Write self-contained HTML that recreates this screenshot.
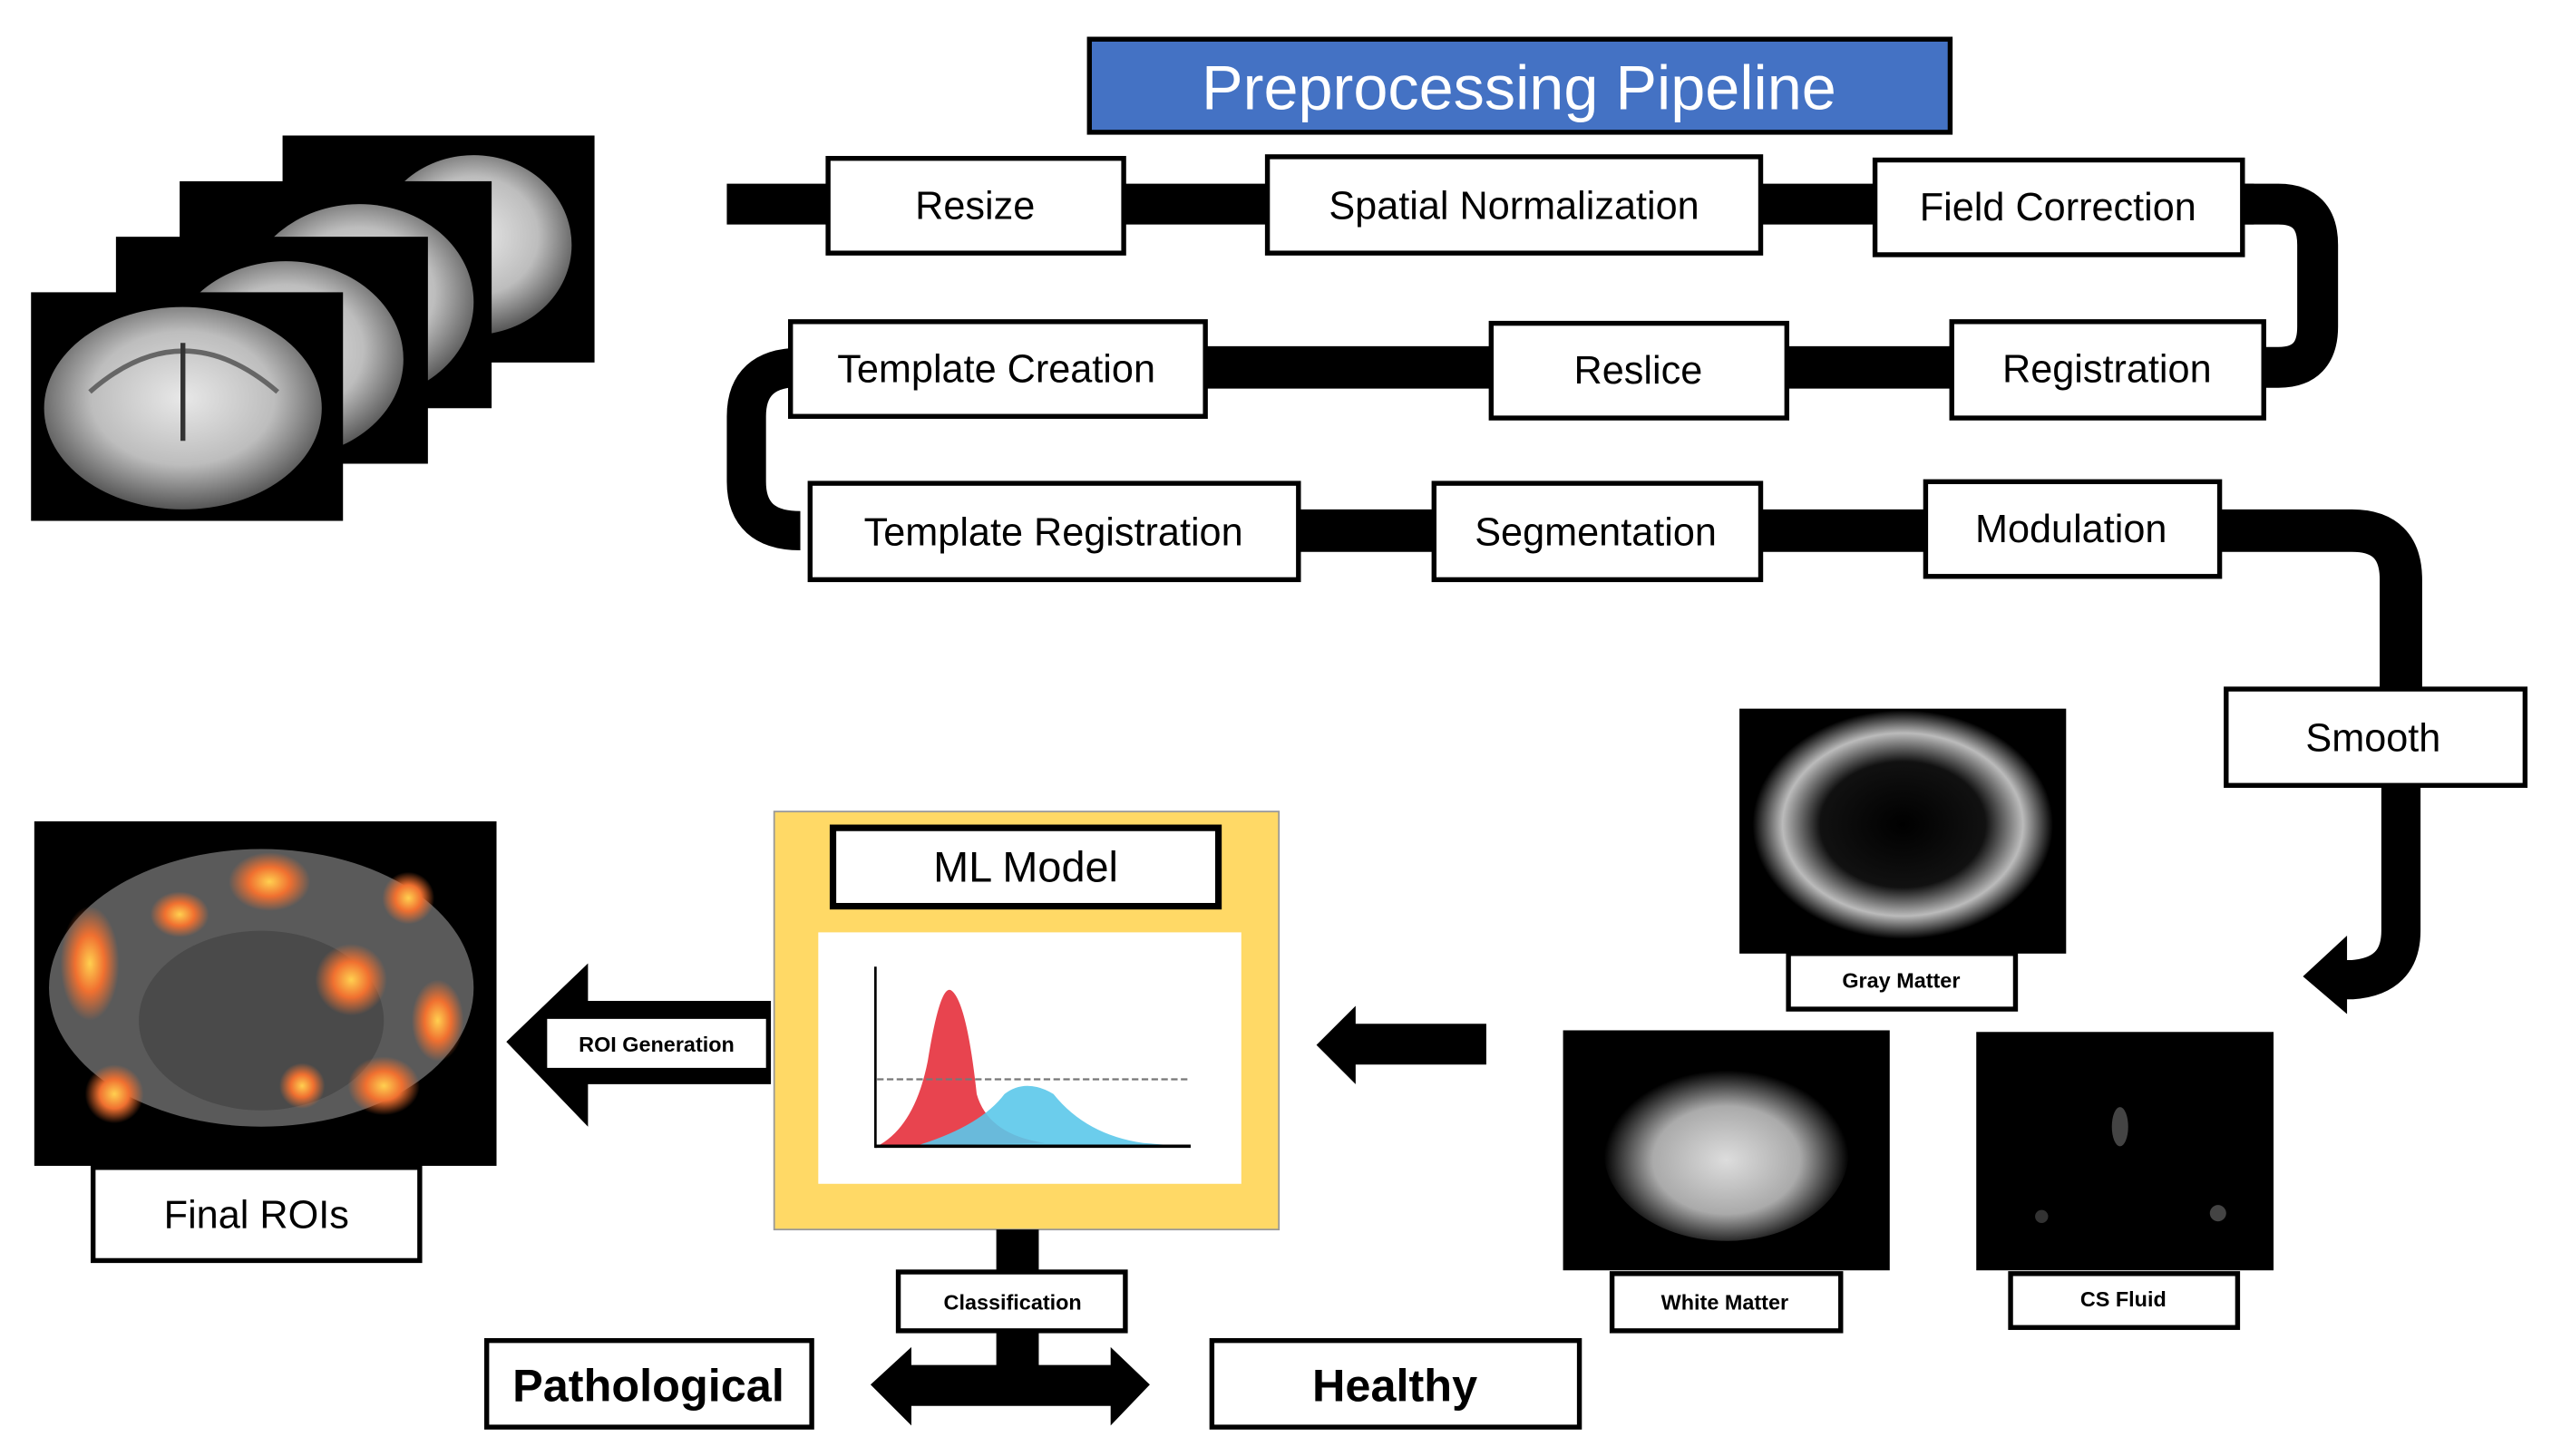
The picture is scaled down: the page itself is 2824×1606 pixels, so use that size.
<!DOCTYPE html>
<html><head><meta charset="utf-8"><style>
html,body{margin:0;padding:0;background:#fff;}
svg{display:block;}
text{font-family:"Liberation Sans",sans-serif;}
</style></head><body>
<svg width="2824" height="1606" viewBox="0 0 1568 891.7" preserveAspectRatio="none" xmlns="http://www.w3.org/2000/svg">
<defs>
<radialGradient id="br" cx="50%" cy="45%" r="55%"><stop offset="0" stop-color="#e8e8e8"/><stop offset="0.6" stop-color="#bdbdbd"/><stop offset="1" stop-color="#555"/></radialGradient>
<radialGradient id="gm" cx="50%" cy="50%" r="50%"><stop offset="0" stop-color="#000"/><stop offset="0.55" stop-color="#111"/><stop offset="0.8" stop-color="#bbb"/><stop offset="1" stop-color="#000"/></radialGradient>
<radialGradient id="wm" cx="50%" cy="55%" r="50%"><stop offset="0" stop-color="#ddd"/><stop offset="0.6" stop-color="#aaa"/><stop offset="1" stop-color="#000"/></radialGradient>
<radialGradient id="hot" cx="50%" cy="50%" r="50%"><stop offset="0" stop-color="#ffd050"/><stop offset="0.5" stop-color="#f07030"/><stop offset="1" stop-color="#f07030" stop-opacity="0"/></radialGradient>
</defs>

<!-- Title -->
<rect x="667" y="24" width="527" height="57" fill="#4472C4" stroke="#000" stroke-width="3"/>
<text x="930" y="67" font-size="38" fill="#fff" text-anchor="middle">Preprocessing Pipeline</text>

<!-- brain stack -->
<g>
<rect x="173" y="83" width="191" height="139" fill="#000"/>
<ellipse cx="290" cy="150" rx="60" ry="55" fill="url(#br)"/>
<rect x="110" y="111" width="191" height="139" fill="#000"/>
<ellipse cx="220" cy="185" rx="70" ry="60" fill="url(#br)"/>
<rect x="71" y="145" width="191" height="139" fill="#000"/>
<ellipse cx="175" cy="220" rx="72" ry="60" fill="url(#br)"/>
<rect x="19" y="179" width="191" height="140" fill="#000"/>
<ellipse cx="112" cy="250" rx="85" ry="62" fill="url(#br)"/>
<path d="M55 240 Q112 190 170 240" stroke="#666" stroke-width="3" fill="none"/>
<line x1="112" y1="210" x2="112" y2="270" stroke="#333" stroke-width="3"/>
</g>

<!-- tracks -->
<g fill="none" stroke="#000">
<line x1="445" y1="125" x2="1380" y2="125" stroke-width="25"/>
<path d="M1372 125 H1395 Q1419 125 1419 150 V200 Q1419 225 1395 225 H1380" stroke-width="25"/>
<line x1="738" y1="225" x2="1200" y2="225" stroke-width="26"/>
<path d="M490 225 Q457 225 457 255 V295 Q457 325 490 325" stroke-width="24"/>
<line x1="790" y1="325" x2="1180" y2="325" stroke-width="26"/>
<path d="M1355 325 H1440 Q1470 325 1470 355 V425" stroke-width="26"/>
<path d="M1470 480 V570 Q1470 598 1440 600 H1430" stroke-width="24"/>
</g>
<polygon points="1410,598 1437,573 1437,621" fill="#000"/>

<!-- boxes -->
<g fill="#fff" stroke="#000" stroke-width="3">
<rect x="507" y="97" width="181" height="58"/>
<rect x="776" y="96" width="302" height="59"/>
<rect x="1148" y="98" width="225" height="58"/>
<rect x="484" y="197" width="254" height="58"/>
<rect x="913" y="198" width="181" height="58"/>
<rect x="1195" y="197" width="191" height="59"/>
<rect x="496" y="296" width="299" height="59"/>
<rect x="878" y="296" width="200" height="59"/>
<rect x="1179" y="295" width="180" height="58"/>
<rect x="1363" y="422" width="183" height="59"/>
</g>
<g font-size="24" text-anchor="middle" fill="#000">
<text x="597" y="134">Resize</text>
<text x="927" y="134">Spatial Normalization</text>
<text x="1260" y="135">Field Correction</text>
<text x="610" y="234">Template Creation</text>
<text x="1003" y="235">Reslice</text>
<text x="1290" y="234">Registration</text>
<text x="645" y="334">Template Registration</text>
<text x="977" y="334">Segmentation</text>
<text x="1268" y="332">Modulation</text>
<text x="1453" y="460">Smooth</text>
</g>

<!-- tissue images -->
<rect x="1065" y="434" width="200" height="150" fill="#000"/>
<ellipse cx="1165" cy="505" rx="92" ry="70" fill="url(#gm)"/>
<rect x="1095" y="584" width="139" height="34" fill="#fff" stroke="#000" stroke-width="3"/>
<text x="1164" y="605" font-size="13" font-weight="bold" text-anchor="middle">Gray Matter</text>

<rect x="957" y="631" width="200" height="147" fill="#000"/>
<ellipse cx="1057" cy="705" rx="75" ry="55" fill="url(#wm)"/>
<rect x="987" y="780" width="140" height="35" fill="#fff" stroke="#000" stroke-width="3"/>
<text x="1056" y="802" font-size="13" font-weight="bold" text-anchor="middle">White Matter</text>

<rect x="1210" y="632" width="182" height="146" fill="#000"/>
<ellipse cx="1298" cy="690" rx="5" ry="12" fill="#444"/>
<circle cx="1358" cy="743" r="5" fill="#444"/>
<circle cx="1250" cy="745" r="4" fill="#333"/>
<rect x="1231" y="780" width="139" height="33" fill="#fff" stroke="#000" stroke-width="3"/>
<text x="1300" y="800" font-size="13" font-weight="bold" text-anchor="middle">CS Fluid</text>

<!-- arrow into ML -->
<polygon points="806,640 830,616 830,627 910,627 910,652 830,652 830,664" fill="#000"/>

<!-- ML box -->
<rect x="474" y="497" width="309" height="256" fill="#FFD966" stroke="#999" stroke-width="1"/>
<rect x="510" y="507" width="236" height="48" fill="#fff" stroke="#000" stroke-width="4"/>
<text x="628" y="540" font-size="26" text-anchor="middle">ML Model</text>
<rect x="501" y="571" width="259" height="154" fill="#fff"/>
<path d="M537 702 Q560 690 568 650 Q576 600 583 607 Q592 615 598 670 Q605 695 640 700 L537 702Z" fill="#E8444F"/>
<path d="M560 702 Q600 690 615 670 Q628 660 645 670 Q665 695 700 700 L725 702Z" fill="#5BC8EA" opacity="0.9"/>
<line x1="537" y1="661" x2="728" y2="661" stroke="#777" stroke-width="1.2" stroke-dasharray="4,2"/>
<line x1="536" y1="592" x2="536" y2="703" stroke="#000" stroke-width="1.5"/>
<line x1="536" y1="702" x2="729" y2="702" stroke="#000" stroke-width="2"/>

<!-- ROI generation arrow -->
<polygon points="310,638 360,590 360,613 472,613 472,664 360,664 360,690" fill="#000"/>
<rect x="335" y="624" width="134" height="30" fill="#fff"/>
<text x="402" y="644" font-size="13" font-weight="bold" text-anchor="middle">ROI Generation</text>

<!-- final ROIs -->
<rect x="21" y="503" width="283" height="211" fill="#000"/>
<ellipse cx="160" cy="605" rx="130" ry="85" fill="#5a5a5a"/>
<ellipse cx="160" cy="625" rx="75" ry="55" fill="#4a4a4a"/>
<g>
<ellipse cx="165" cy="540" rx="25" ry="18" fill="url(#hot)"/>
<ellipse cx="55" cy="590" rx="18" ry="35" fill="url(#hot)"/>
<ellipse cx="215" cy="600" rx="22" ry="22" fill="url(#hot)"/>
<ellipse cx="268" cy="625" rx="16" ry="25" fill="url(#hot)"/>
<ellipse cx="235" cy="665" rx="22" ry="18" fill="url(#hot)"/>
<ellipse cx="185" cy="665" rx="14" ry="14" fill="url(#hot)"/>
<ellipse cx="70" cy="670" rx="18" ry="18" fill="url(#hot)"/>
<ellipse cx="110" cy="560" rx="18" ry="14" fill="url(#hot)"/>
<ellipse cx="250" cy="550" rx="16" ry="16" fill="url(#hot)"/>
</g>
<rect x="57" y="715" width="200" height="57" fill="#fff" stroke="#000" stroke-width="3"/>
<text x="157" y="752" font-size="24" text-anchor="middle">Final ROIs</text>

<!-- classification -->
<rect x="610" y="753" width="26" height="95" fill="#000"/>
<rect x="550" y="779" width="139" height="36" fill="#fff" stroke="#000" stroke-width="3"/>
<text x="620" y="802" font-size="13" font-weight="bold" text-anchor="middle">Classification</text>
<polygon points="533,848 558,825 558,836 680,836 680,825 704,848 680,873 680,861 558,861 558,873" fill="#000"/>

<rect x="298" y="821" width="199" height="53" fill="#fff" stroke="#000" stroke-width="3"/>
<text x="397" y="858" font-size="28" font-weight="bold" text-anchor="middle">Pathological</text>
<rect x="742" y="821" width="225" height="53" fill="#fff" stroke="#000" stroke-width="3"/>
<text x="854" y="858" font-size="28" font-weight="bold" text-anchor="middle">Healthy</text>
</svg>
</body></html>
